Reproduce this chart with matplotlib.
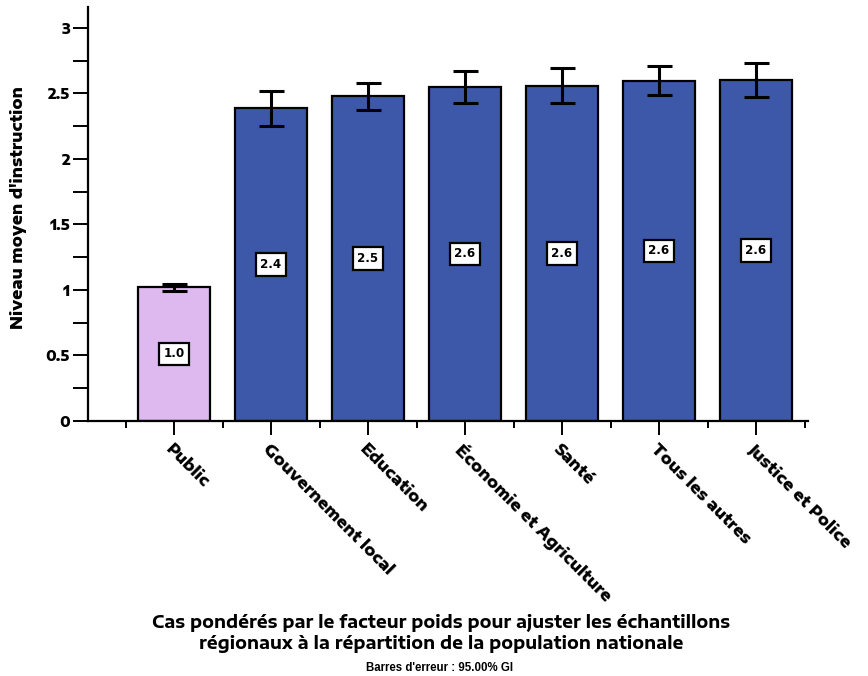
import matplotlib
matplotlib.use("Agg")
import matplotlib.pyplot as plt
from matplotlib.ticker import MultipleLocator, FixedLocator, FuncFormatter

categories = ["Public", "Gouvernement local", "Education", "Économie et Agriculture",
              "Santé", "Tous les autres", "Justice et Police"]
means = [1.023, 2.387, 2.481, 2.550, 2.560, 2.598, 2.603]
ci_low = [0.995, 2.254, 2.377, 2.427, 2.430, 2.489, 2.471]
ci_high = [1.046, 2.519, 2.580, 2.672, 2.695, 2.710, 2.733]
value_labels = ["1.0", "2.4", "2.5", "2.6", "2.6", "2.6", "2.6"]
bar_colors = ["#DDB9F0", "#3D58A9", "#3D58A9", "#3D58A9", "#3D58A9", "#3D58A9", "#3D58A9"]

WIDE = ["Encode Sans Expanded", "DejaVu Sans"]
PLAIN = ["Liberation Sans", "DejaVu Sans"]
BOXED = ["DejaVu Sans"]
plt.rcParams["font.family"] = WIDE
plt.rcParams["font.weight"] = "bold"

fig = plt.figure(figsize=(8.68, 6.76), dpi=100)
W, H = 868, 676
ax = fig.add_axes([88 / W, 1 - 421 / H, (808 - 88) / W, (421 - 7) / H])

x = list(range(len(categories)))
yerr = [[m - lo for m, lo in zip(means, ci_low)], [hi - m for m, hi in zip(means, ci_high)]]
ax.bar(x, means, width=0.75, color=bar_colors, edgecolor="black", linewidth=1.6, zorder=2)
ax.errorbar(x, means, yerr=yerr, fmt="none", ecolor="black", elinewidth=2.2,
            capsize=9, capthick=2.2, zorder=3)

for xi, m, lab in zip(x, means, value_labels):
    ax.text(xi, m / 2, lab, ha="center", va="center", fontsize=8.6, fontweight="bold",
            family=BOXED, zorder=4,
            bbox=dict(boxstyle="square,pad=0.4", facecolor="white", edgecolor="black",
                      linewidth=1.6))

ax.set_xlim(-0.887, 6.536)
ax.set_ylim(0, 3.16)

for side in ("top", "right"):
    ax.spines[side].set_visible(False)
for side in ("left", "bottom"):
    ax.spines[side].set_linewidth(1.6)

ax.yaxis.set_major_locator(MultipleLocator(0.5))
ax.yaxis.set_minor_locator(MultipleLocator(0.25))
ax.yaxis.set_major_formatter(FuncFormatter(lambda v, p: f"{v:g}"))
ax.tick_params(axis="y", which="both", length=11, width=1.4, direction="out", pad=2)
for lab in ax.get_yticklabels():
    lab.set_fontsize(10)
    lab.set_fontweight(800)

ax.xaxis.set_major_locator(FixedLocator(x))
ax.xaxis.set_minor_locator(FixedLocator([i - 0.5 for i in range(len(categories) + 1)]))
ax.set_xticklabels(categories, rotation=-45, ha="left", va="top",
                   rotation_mode="anchor", fontsize=11.4, fontweight=800)
ax.tick_params(axis="x", which="major", length=10, width=1.4, pad=4)
ax.tick_params(axis="x", which="minor", length=5, width=1.4)

ax.set_ylabel("Niveau moyen d'instruction", fontsize=11.3, fontweight=800)
ax.yaxis.set_label_coords(-0.085, 0.515)

fig.text(441 / W, 1 - 623 / H, "Cas pondérés par le facteur poids pour ajuster les échantillons",
         ha="center", va="center", fontsize=12.3, fontweight=700, family=WIDE)
fig.text(441 / W, 1 - 644 / H, "régionaux à la répartition de la population nationale",
         ha="center", va="center", fontsize=12.3, fontweight=700, family=WIDE)
fig.text(440 / W, 1 - 668 / H, "Barres d'erreur : 95.00% GI",
         ha="center", va="center", fontsize=8.3, fontweight="bold", family=PLAIN)

fig.savefig("out.png", dpi=100)
